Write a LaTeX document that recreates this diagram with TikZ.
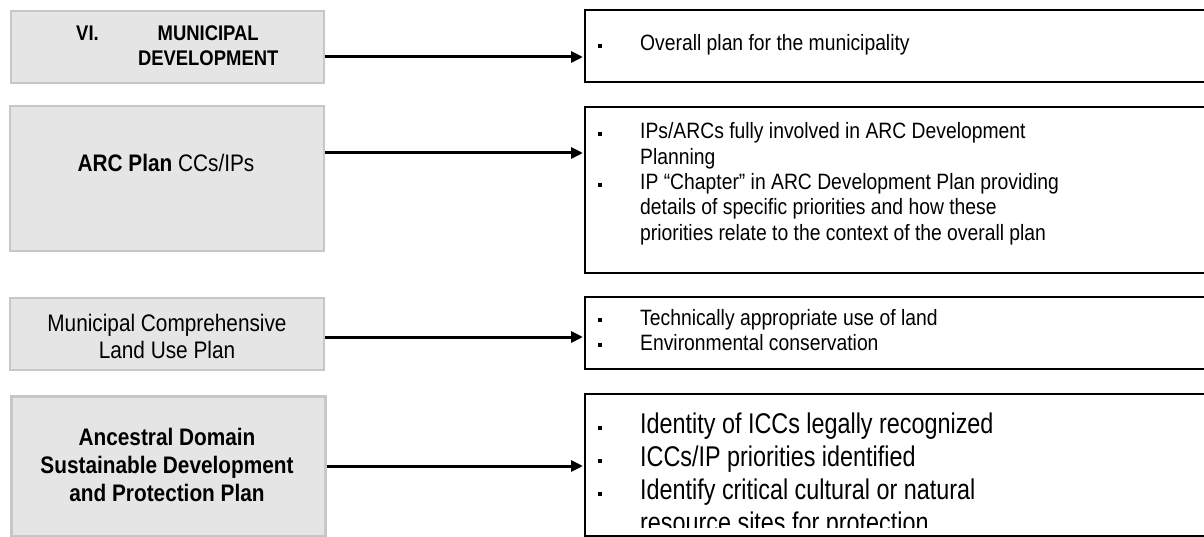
\documentclass[tikz,border=0pt]{standalone}
\usepackage{fontspec}
\setmainfont{Liberation Sans}[FakeStretch=0.87]
\newfontfamily\bigfont{Liberation Sans}[FakeStretch=0.82]
\usetikzlibrary{arrows.meta}
\newcommand{\bul}{\rule[3pt]{4pt}{4pt}}
\begin{document}
\begin{tikzpicture}[x=1pt,y=-1pt,
  lbox/.style={draw=black!22, fill=black!10, line width=2.2pt, anchor=north west, inner sep=0pt},
  rbox/.style={draw=black, line width=1.8pt, anchor=north west, inner sep=0pt},
  conn/.style={line width=3pt, -{Triangle[length=12pt,width=11pt]}, shorten >=1pt},
  ltext/.style={inner sep=0pt, anchor=base, font=\fontsize{23.9}{27}\selectfont},
  rtext/.style={inner sep=0pt, anchor=base west, font=\fontsize{22.2}{25.3}\selectfont},
]
\clip (0,0) rectangle (1204,537);
% left boxes
\node[lbox, minimum width=313pt, minimum height=72pt]  (L1) at (10,10) {};
\node[lbox, minimum width=314pt, minimum height=145pt] (L2) at (9,105) {};
\node[lbox, minimum width=314pt, minimum height=72pt]  (L3) at (9,297) {};
\node[lbox, minimum width=314pt, minimum height=140pt, line width=3pt] (L4) at (10,395) {};
% right boxes
\node[rbox, minimum width=640pt, minimum height=72pt]  (R1) at (584,9) {};
\node[rbox, minimum width=640pt, minimum height=166pt] (R2) at (584,106) {};
\node[rbox, minimum width=640pt, minimum height=72pt]  (R3) at (584,296) {};
\node[rbox, minimum width=640pt, minimum height=142pt] (R4) at (584,393) {};
% arrow heights
\coordinate (a1) at (0,57);
\coordinate (a2) at (0,153);
\coordinate (a3) at (0,337);
\coordinate (a4) at (0,466);
\draw[conn] (L1.east |- a1) -- (R1.west |- a1);
\draw[conn] (L2.east |- a2) -- (R2.west |- a2);
\draw[conn] (L3.east |- a3) -- (R3.west |- a3);
\draw[conn] (L4.east |- a4) -- (R4.west |- a4);
% left texts
\node[inner sep=0pt, anchor=base west, font=\bfseries\fontsize{21.2}{25}\selectfont] (t1) at (76,40.8)
  {\begin{tabular}[t]{@{}l@{}l@{}}\makebox[52pt][l]{VI.} & \makebox[160pt]{MUNICIPAL}\\ & \makebox[160pt]{DEVELOPMENT}\end{tabular}};
\node[ltext] (t2) at (166,171.6) {\textbf{ARC Plan} CCs/IPs};
\node[ltext] (t3) at (167,331.6) {\begin{tabular}[t]{@{}c@{}}Municipal Comprehensive\\Land Use Plan\end{tabular}};
\node[ltext, font=\bfseries\fontsize{23.9}{28}\selectfont] (t4) at (167,445.6) {\begin{tabular}[t]{@{}c@{}}Ancestral Domain\\Sustainable Development\\and Protection Plan\end{tabular}};
% right texts
\node[rtext] (s1) at (598,51) {\begin{tabular}[t]{@{}p{42pt}@{}l@{}}\bul & Overall plan for the municipality\end{tabular}};
\node[rtext] (s2) at (598,139) {\begin{tabular}[t]{@{}p{42pt}@{}l@{}}\bul & IPs/ARCs fully involved in ARC Development\\ & Planning\\
 \bul & IP “Chapter” in ARC Development Plan providing\\ & details of specific priorities and how these\\ & priorities relate to the context of the overall plan\end{tabular}};
\node[rtext] (s3) at (598,325) {\begin{tabular}[t]{@{}p{42pt}@{}l@{}}\bul & Technically appropriate use of land\\ \bul & Environmental conservation\end{tabular}};
\begin{scope}
\clip (R4.north west) rectangle ([yshift=9pt]R4.south east);
\node[rtext, font=\bigfont\fontsize{28.5}{33}\selectfont] (s4) at (598,433) {\begin{tabular}[t]{@{}p{42pt}@{}l@{}}\bul & Identity of ICCs legally recognized\\ \bul & ICCs/IP priorities identified\\ \bul & Identify critical cultural or natural\\ & resource sites for protection\end{tabular}};
\end{scope}
\end{tikzpicture}
\end{document}
